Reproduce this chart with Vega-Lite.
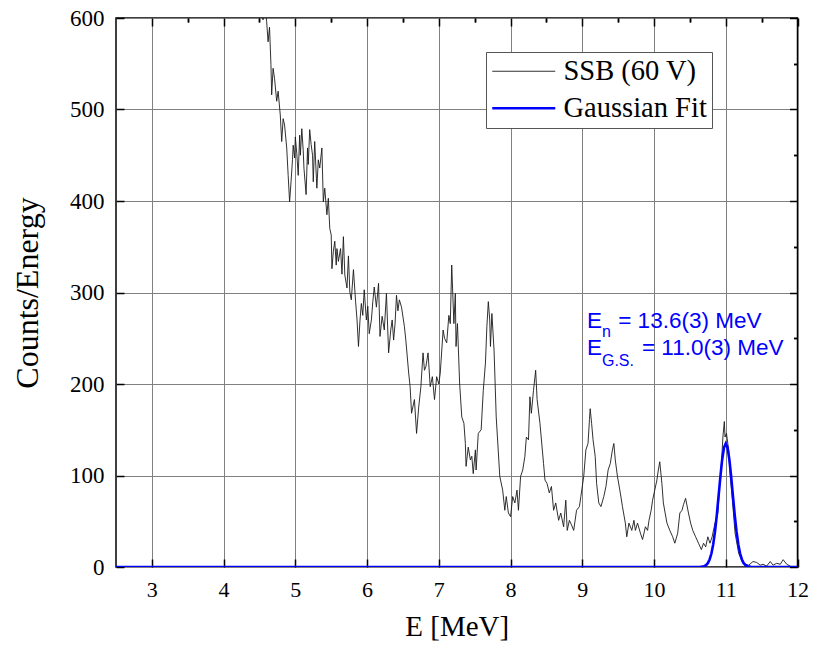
{
  "$schema": "https://vega.github.io/schema/vega-lite/v6.json",
  "width": 681.5,
  "height": 549,
  "autosize": "none",
  "padding": {"left": 116, "top": 18, "right": 18.5, "bottom": 82},
  "background": "white",
  "config": {
    "view": {"stroke": "black", "strokeWidth": 1.5},
    "axis": {
      "domain": false,
      "labelFont": "Liberation Serif",
      "titleFont": "Liberation Serif",
      "labelColor": "black",
      "titleColor": "black",
      "tickColor": "black",
      "tickWidth": 1.5,
      "gridColor": "#808080",
      "gridWidth": 1,
      "gridOpacity": 1,
      "titleFontWeight": "normal"
    }
  },
  "datasets": {
    "spec": [
      {"E": 4.40, "C": 700, "s": "SSB (60 V)"},
      {"E": 4.47, "C": 655, "s": "SSB (60 V)"},
      {"E": 4.52, "C": 612, "s": "SSB (60 V)"},
      {"E": 4.55, "C": 598, "s": "SSB (60 V)"},
      {"E": 4.57, "C": 618, "s": "SSB (60 V)"},
      {"E": 4.60, "C": 596, "s": "SSB (60 V)"},
      {"E": 4.62, "C": 574, "s": "SSB (60 V)"},
      {"E": 4.64, "C": 590, "s": "SSB (60 V)"},
      {"E": 4.66, "C": 549, "s": "SSB (60 V)"},
      {"E": 4.67, "C": 516, "s": "SSB (60 V)"},
      {"E": 4.69, "C": 545, "s": "SSB (60 V)"},
      {"E": 4.71, "C": 534, "s": "SSB (60 V)"},
      {"E": 4.74, "C": 509, "s": "SSB (60 V)"},
      {"E": 4.76, "C": 520, "s": "SSB (60 V)"},
      {"E": 4.79, "C": 494, "s": "SSB (60 V)"},
      {"E": 4.81, "C": 465, "s": "SSB (60 V)"},
      {"E": 4.83, "C": 490, "s": "SSB (60 V)"},
      {"E": 4.85, "C": 483, "s": "SSB (60 V)"},
      {"E": 4.88, "C": 458, "s": "SSB (60 V)"},
      {"E": 4.90, "C": 428, "s": "SSB (60 V)"},
      {"E": 4.92, "C": 399, "s": "SSB (60 V)"},
      {"E": 4.94, "C": 421, "s": "SSB (60 V)"},
      {"E": 4.96, "C": 445, "s": "SSB (60 V)"},
      {"E": 4.97, "C": 461, "s": "SSB (60 V)"},
      {"E": 4.99, "C": 447, "s": "SSB (60 V)"},
      {"E": 5.00, "C": 470, "s": "SSB (60 V)"},
      {"E": 5.02, "C": 452, "s": "SSB (60 V)"},
      {"E": 5.04, "C": 428, "s": "SSB (60 V)"},
      {"E": 5.06, "C": 472, "s": "SSB (60 V)"},
      {"E": 5.07, "C": 450, "s": "SSB (60 V)"},
      {"E": 5.09, "C": 479, "s": "SSB (60 V)"},
      {"E": 5.11, "C": 455, "s": "SSB (60 V)"},
      {"E": 5.12, "C": 436, "s": "SSB (60 V)"},
      {"E": 5.15, "C": 407, "s": "SSB (60 V)"},
      {"E": 5.17, "C": 458, "s": "SSB (60 V)"},
      {"E": 5.18, "C": 440, "s": "SSB (60 V)"},
      {"E": 5.20, "C": 478, "s": "SSB (60 V)"},
      {"E": 5.22, "C": 462, "s": "SSB (60 V)"},
      {"E": 5.24, "C": 450, "s": "SSB (60 V)"},
      {"E": 5.25, "C": 421, "s": "SSB (60 V)"},
      {"E": 5.27, "C": 465, "s": "SSB (60 V)"},
      {"E": 5.30, "C": 414, "s": "SSB (60 V)"},
      {"E": 5.32, "C": 445, "s": "SSB (60 V)"},
      {"E": 5.34, "C": 436, "s": "SSB (60 V)"},
      {"E": 5.37, "C": 458, "s": "SSB (60 V)"},
      {"E": 5.39, "C": 399, "s": "SSB (60 V)"},
      {"E": 5.41, "C": 414, "s": "SSB (60 V)"},
      {"E": 5.44, "C": 385, "s": "SSB (60 V)"},
      {"E": 5.46, "C": 403, "s": "SSB (60 V)"},
      {"E": 5.48, "C": 370, "s": "SSB (60 V)"},
      {"E": 5.50, "C": 363, "s": "SSB (60 V)"},
      {"E": 5.51, "C": 326, "s": "SSB (60 V)"},
      {"E": 5.53, "C": 345, "s": "SSB (60 V)"},
      {"E": 5.55, "C": 356, "s": "SSB (60 V)"},
      {"E": 5.57, "C": 330, "s": "SSB (60 V)"},
      {"E": 5.58, "C": 348, "s": "SSB (60 V)"},
      {"E": 5.60, "C": 334, "s": "SSB (60 V)"},
      {"E": 5.63, "C": 348, "s": "SSB (60 V)"},
      {"E": 5.65, "C": 320, "s": "SSB (60 V)"},
      {"E": 5.67, "C": 361, "s": "SSB (60 V)"},
      {"E": 5.69, "C": 319, "s": "SSB (60 V)"},
      {"E": 5.72, "C": 305, "s": "SSB (60 V)"},
      {"E": 5.74, "C": 340, "s": "SSB (60 V)"},
      {"E": 5.76, "C": 300, "s": "SSB (60 V)"},
      {"E": 5.78, "C": 292, "s": "SSB (60 V)"},
      {"E": 5.81, "C": 325, "s": "SSB (60 V)"},
      {"E": 5.84, "C": 290, "s": "SSB (60 V)"},
      {"E": 5.86, "C": 270, "s": "SSB (60 V)"},
      {"E": 5.88, "C": 241, "s": "SSB (60 V)"},
      {"E": 5.90, "C": 268, "s": "SSB (60 V)"},
      {"E": 5.92, "C": 288, "s": "SSB (60 V)"},
      {"E": 5.94, "C": 275, "s": "SSB (60 V)"},
      {"E": 5.96, "C": 303, "s": "SSB (60 V)"},
      {"E": 5.99, "C": 270, "s": "SSB (60 V)"},
      {"E": 6.01, "C": 285, "s": "SSB (60 V)"},
      {"E": 6.03, "C": 255, "s": "SSB (60 V)"},
      {"E": 6.06, "C": 270, "s": "SSB (60 V)"},
      {"E": 6.08, "C": 290, "s": "SSB (60 V)"},
      {"E": 6.10, "C": 306, "s": "SSB (60 V)"},
      {"E": 6.13, "C": 284, "s": "SSB (60 V)"},
      {"E": 6.16, "C": 310, "s": "SSB (60 V)"},
      {"E": 6.18, "C": 252, "s": "SSB (60 V)"},
      {"E": 6.21, "C": 274, "s": "SSB (60 V)"},
      {"E": 6.24, "C": 259, "s": "SSB (60 V)"},
      {"E": 6.27, "C": 299, "s": "SSB (60 V)"},
      {"E": 6.30, "C": 234, "s": "SSB (60 V)"},
      {"E": 6.33, "C": 259, "s": "SSB (60 V)"},
      {"E": 6.35, "C": 270, "s": "SSB (60 V)"},
      {"E": 6.37, "C": 248, "s": "SSB (60 V)"},
      {"E": 6.39, "C": 266, "s": "SSB (60 V)"},
      {"E": 6.41, "C": 297, "s": "SSB (60 V)"},
      {"E": 6.43, "C": 280, "s": "SSB (60 V)"},
      {"E": 6.45, "C": 292, "s": "SSB (60 V)"},
      {"E": 6.48, "C": 284, "s": "SSB (60 V)"},
      {"E": 6.52, "C": 263, "s": "SSB (60 V)"},
      {"E": 6.54, "C": 248, "s": "SSB (60 V)"},
      {"E": 6.58, "C": 212, "s": "SSB (60 V)"},
      {"E": 6.60, "C": 197, "s": "SSB (60 V)"},
      {"E": 6.62, "C": 168, "s": "SSB (60 V)"},
      {"E": 6.66, "C": 183, "s": "SSB (60 V)"},
      {"E": 6.69, "C": 146, "s": "SSB (60 V)"},
      {"E": 6.72, "C": 175, "s": "SSB (60 V)"},
      {"E": 6.75, "C": 197, "s": "SSB (60 V)"},
      {"E": 6.78, "C": 234, "s": "SSB (60 V)"},
      {"E": 6.80, "C": 215, "s": "SSB (60 V)"},
      {"E": 6.82, "C": 219, "s": "SSB (60 V)"},
      {"E": 6.85, "C": 234, "s": "SSB (60 V)"},
      {"E": 6.88, "C": 197, "s": "SSB (60 V)"},
      {"E": 6.91, "C": 208, "s": "SSB (60 V)"},
      {"E": 6.94, "C": 183, "s": "SSB (60 V)"},
      {"E": 6.97, "C": 208, "s": "SSB (60 V)"},
      {"E": 7.00, "C": 200, "s": "SSB (60 V)"},
      {"E": 7.02, "C": 212, "s": "SSB (60 V)"},
      {"E": 7.06, "C": 259, "s": "SSB (60 V)"},
      {"E": 7.08, "C": 250, "s": "SSB (60 V)"},
      {"E": 7.11, "C": 245, "s": "SSB (60 V)"},
      {"E": 7.14, "C": 275, "s": "SSB (60 V)"},
      {"E": 7.16, "C": 266, "s": "SSB (60 V)"},
      {"E": 7.18, "C": 330, "s": "SSB (60 V)"},
      {"E": 7.21, "C": 266, "s": "SSB (60 V)"},
      {"E": 7.23, "C": 299, "s": "SSB (60 V)"},
      {"E": 7.24, "C": 241, "s": "SSB (60 V)"},
      {"E": 7.26, "C": 266, "s": "SSB (60 V)"},
      {"E": 7.29, "C": 201, "s": "SSB (60 V)"},
      {"E": 7.32, "C": 164, "s": "SSB (60 V)"},
      {"E": 7.35, "C": 157, "s": "SSB (60 V)"},
      {"E": 7.37, "C": 135, "s": "SSB (60 V)"},
      {"E": 7.38, "C": 110, "s": "SSB (60 V)"},
      {"E": 7.41, "C": 131, "s": "SSB (60 V)"},
      {"E": 7.44, "C": 117, "s": "SSB (60 V)"},
      {"E": 7.46, "C": 121, "s": "SSB (60 V)"},
      {"E": 7.48, "C": 102, "s": "SSB (60 V)"},
      {"E": 7.51, "C": 128, "s": "SSB (60 V)"},
      {"E": 7.52, "C": 106, "s": "SSB (60 V)"},
      {"E": 7.55, "C": 146, "s": "SSB (60 V)"},
      {"E": 7.59, "C": 150, "s": "SSB (60 V)"},
      {"E": 7.62, "C": 193, "s": "SSB (60 V)"},
      {"E": 7.65, "C": 223, "s": "SSB (60 V)"},
      {"E": 7.67, "C": 263, "s": "SSB (60 V)"},
      {"E": 7.69, "C": 290, "s": "SSB (60 V)"},
      {"E": 7.71, "C": 270, "s": "SSB (60 V)"},
      {"E": 7.72, "C": 241, "s": "SSB (60 V)"},
      {"E": 7.74, "C": 277, "s": "SSB (60 V)"},
      {"E": 7.77, "C": 237, "s": "SSB (60 V)"},
      {"E": 7.80, "C": 164, "s": "SSB (60 V)"},
      {"E": 7.85, "C": 99, "s": "SSB (60 V)"},
      {"E": 7.89, "C": 84, "s": "SSB (60 V)"},
      {"E": 7.92, "C": 62, "s": "SSB (60 V)"},
      {"E": 7.94, "C": 77, "s": "SSB (60 V)"},
      {"E": 7.97, "C": 59, "s": "SSB (60 V)"},
      {"E": 8.00, "C": 55, "s": "SSB (60 V)"},
      {"E": 8.03, "C": 77, "s": "SSB (60 V)"},
      {"E": 8.06, "C": 70, "s": "SSB (60 V)"},
      {"E": 8.09, "C": 84, "s": "SSB (60 V)"},
      {"E": 8.11, "C": 62, "s": "SSB (60 V)"},
      {"E": 8.14, "C": 99, "s": "SSB (60 V)"},
      {"E": 8.17, "C": 106, "s": "SSB (60 V)"},
      {"E": 8.20, "C": 121, "s": "SSB (60 V)"},
      {"E": 8.22, "C": 142, "s": "SSB (60 V)"},
      {"E": 8.25, "C": 139, "s": "SSB (60 V)"},
      {"E": 8.27, "C": 186, "s": "SSB (60 V)"},
      {"E": 8.29, "C": 168, "s": "SSB (60 V)"},
      {"E": 8.32, "C": 193, "s": "SSB (60 V)"},
      {"E": 8.35, "C": 215, "s": "SSB (60 V)"},
      {"E": 8.37, "C": 183, "s": "SSB (60 V)"},
      {"E": 8.41, "C": 157, "s": "SSB (60 V)"},
      {"E": 8.46, "C": 113, "s": "SSB (60 V)"},
      {"E": 8.48, "C": 95, "s": "SSB (60 V)"},
      {"E": 8.51, "C": 91, "s": "SSB (60 V)"},
      {"E": 8.54, "C": 81, "s": "SSB (60 V)"},
      {"E": 8.57, "C": 88, "s": "SSB (60 V)"},
      {"E": 8.60, "C": 62, "s": "SSB (60 V)"},
      {"E": 8.63, "C": 70, "s": "SSB (60 V)"},
      {"E": 8.67, "C": 51, "s": "SSB (60 V)"},
      {"E": 8.70, "C": 59, "s": "SSB (60 V)"},
      {"E": 8.74, "C": 44, "s": "SSB (60 V)"},
      {"E": 8.77, "C": 73, "s": "SSB (60 V)"},
      {"E": 8.79, "C": 40, "s": "SSB (60 V)"},
      {"E": 8.82, "C": 51, "s": "SSB (60 V)"},
      {"E": 8.85, "C": 46, "s": "SSB (60 V)"},
      {"E": 8.88, "C": 40, "s": "SSB (60 V)"},
      {"E": 8.92, "C": 62, "s": "SSB (60 V)"},
      {"E": 8.96, "C": 66, "s": "SSB (60 V)"},
      {"E": 8.98, "C": 77, "s": "SSB (60 V)"},
      {"E": 9.02, "C": 99, "s": "SSB (60 V)"},
      {"E": 9.05, "C": 128, "s": "SSB (60 V)"},
      {"E": 9.08, "C": 135, "s": "SSB (60 V)"},
      {"E": 9.10, "C": 161, "s": "SSB (60 V)"},
      {"E": 9.11, "C": 173, "s": "SSB (60 V)"},
      {"E": 9.13, "C": 157, "s": "SSB (60 V)"},
      {"E": 9.15, "C": 139, "s": "SSB (60 V)"},
      {"E": 9.18, "C": 121, "s": "SSB (60 V)"},
      {"E": 9.20, "C": 91, "s": "SSB (60 V)"},
      {"E": 9.23, "C": 70, "s": "SSB (60 V)"},
      {"E": 9.26, "C": 66, "s": "SSB (60 V)"},
      {"E": 9.30, "C": 77, "s": "SSB (60 V)"},
      {"E": 9.33, "C": 88, "s": "SSB (60 V)"},
      {"E": 9.36, "C": 106, "s": "SSB (60 V)"},
      {"E": 9.39, "C": 113, "s": "SSB (60 V)"},
      {"E": 9.42, "C": 128, "s": "SSB (60 V)"},
      {"E": 9.44, "C": 135, "s": "SSB (60 V)"},
      {"E": 9.46, "C": 117, "s": "SSB (60 V)"},
      {"E": 9.49, "C": 99, "s": "SSB (60 V)"},
      {"E": 9.53, "C": 81, "s": "SSB (60 V)"},
      {"E": 9.56, "C": 66, "s": "SSB (60 V)"},
      {"E": 9.60, "C": 48, "s": "SSB (60 V)"},
      {"E": 9.62, "C": 33, "s": "SSB (60 V)"},
      {"E": 9.65, "C": 48, "s": "SSB (60 V)"},
      {"E": 9.69, "C": 40, "s": "SSB (60 V)"},
      {"E": 9.72, "C": 51, "s": "SSB (60 V)"},
      {"E": 9.74, "C": 40, "s": "SSB (60 V)"},
      {"E": 9.77, "C": 48, "s": "SSB (60 V)"},
      {"E": 9.81, "C": 37, "s": "SSB (60 V)"},
      {"E": 9.84, "C": 30, "s": "SSB (60 V)"},
      {"E": 9.88, "C": 44, "s": "SSB (60 V)"},
      {"E": 9.91, "C": 40, "s": "SSB (60 V)"},
      {"E": 9.93, "C": 51, "s": "SSB (60 V)"},
      {"E": 9.96, "C": 62, "s": "SSB (60 V)"},
      {"E": 9.98, "C": 73, "s": "SSB (60 V)"},
      {"E": 10.01, "C": 84, "s": "SSB (60 V)"},
      {"E": 10.04, "C": 95, "s": "SSB (60 V)"},
      {"E": 10.06, "C": 106, "s": "SSB (60 V)"},
      {"E": 10.08, "C": 115, "s": "SSB (60 V)"},
      {"E": 10.11, "C": 91, "s": "SSB (60 V)"},
      {"E": 10.13, "C": 70, "s": "SSB (60 V)"},
      {"E": 10.18, "C": 48, "s": "SSB (60 V)"},
      {"E": 10.22, "C": 40, "s": "SSB (60 V)"},
      {"E": 10.26, "C": 33, "s": "SSB (60 V)"},
      {"E": 10.29, "C": 26, "s": "SSB (60 V)"},
      {"E": 10.33, "C": 37, "s": "SSB (60 V)"},
      {"E": 10.36, "C": 59, "s": "SSB (60 V)"},
      {"E": 10.39, "C": 62, "s": "SSB (60 V)"},
      {"E": 10.41, "C": 68, "s": "SSB (60 V)"},
      {"E": 10.44, "C": 75, "s": "SSB (60 V)"},
      {"E": 10.48, "C": 59, "s": "SSB (60 V)"},
      {"E": 10.51, "C": 48, "s": "SSB (60 V)"},
      {"E": 10.54, "C": 40, "s": "SSB (60 V)"},
      {"E": 10.58, "C": 33, "s": "SSB (60 V)"},
      {"E": 10.62, "C": 26, "s": "SSB (60 V)"},
      {"E": 10.66, "C": 19, "s": "SSB (60 V)"},
      {"E": 10.69, "C": 26, "s": "SSB (60 V)"},
      {"E": 10.72, "C": 22, "s": "SSB (60 V)"},
      {"E": 10.75, "C": 33, "s": "SSB (60 V)"},
      {"E": 10.78, "C": 26, "s": "SSB (60 V)"},
      {"E": 10.81, "C": 33, "s": "SSB (60 V)"},
      {"E": 10.85, "C": 48, "s": "SSB (60 V)"},
      {"E": 10.89, "C": 59, "s": "SSB (60 V)"},
      {"E": 10.91, "C": 84, "s": "SSB (60 V)"},
      {"E": 10.94, "C": 113, "s": "SSB (60 V)"},
      {"E": 10.96, "C": 142, "s": "SSB (60 V)"},
      {"E": 10.98, "C": 159, "s": "SSB (60 V)"},
      {"E": 10.99, "C": 142, "s": "SSB (60 V)"},
      {"E": 11.01, "C": 146, "s": "SSB (60 V)"},
      {"E": 11.04, "C": 128, "s": "SSB (60 V)"},
      {"E": 11.06, "C": 102, "s": "SSB (60 V)"},
      {"E": 11.10, "C": 66, "s": "SSB (60 V)"},
      {"E": 11.13, "C": 37, "s": "SSB (60 V)"},
      {"E": 11.18, "C": 15, "s": "SSB (60 V)"},
      {"E": 11.24, "C": 4, "s": "SSB (60 V)"},
      {"E": 11.32, "C": 2, "s": "SSB (60 V)"},
      {"E": 11.38, "C": 6, "s": "SSB (60 V)"},
      {"E": 11.43, "C": 5, "s": "SSB (60 V)"},
      {"E": 11.48, "C": 2, "s": "SSB (60 V)"},
      {"E": 11.52, "C": 3, "s": "SSB (60 V)"},
      {"E": 11.57, "C": 1, "s": "SSB (60 V)"},
      {"E": 11.62, "C": 6, "s": "SSB (60 V)"},
      {"E": 11.66, "C": 2, "s": "SSB (60 V)"},
      {"E": 11.71, "C": 4, "s": "SSB (60 V)"},
      {"E": 11.76, "C": 3, "s": "SSB (60 V)"},
      {"E": 11.80, "C": 8, "s": "SSB (60 V)"},
      {"E": 11.85, "C": 3, "s": "SSB (60 V)"},
      {"E": 11.90, "C": 1, "s": "SSB (60 V)"},
      {"E": 2.5, "C": 0, "s": "Gaussian Fit"},
      {"E": 10.6, "C": 0, "s": "Gaussian Fit"},
      {"E": 10.65, "C": 0.15, "s": "Gaussian Fit"},
      {"E": 10.7, "C": 0.92, "s": "Gaussian Fit"},
      {"E": 10.725, "C": 2.0, "s": "Gaussian Fit"},
      {"E": 10.75, "C": 4.2, "s": "Gaussian Fit"},
      {"E": 10.775, "C": 8.2, "s": "Gaussian Fit"},
      {"E": 10.8, "C": 14.7, "s": "Gaussian Fit"},
      {"E": 10.825, "C": 24.7, "s": "Gaussian Fit"},
      {"E": 10.85, "C": 38.8, "s": "Gaussian Fit"},
      {"E": 10.875, "C": 56.8, "s": "Gaussian Fit"},
      {"E": 10.9, "C": 77.6, "s": "Gaussian Fit"},
      {"E": 10.925, "C": 98.9, "s": "Gaussian Fit"},
      {"E": 10.95, "C": 117.5, "s": "Gaussian Fit"},
      {"E": 10.975, "C": 130.4, "s": "Gaussian Fit"},
      {"E": 11.0, "C": 135, "s": "Gaussian Fit"},
      {"E": 11.025, "C": 130.4, "s": "Gaussian Fit"},
      {"E": 11.05, "C": 117.5, "s": "Gaussian Fit"},
      {"E": 11.075, "C": 98.9, "s": "Gaussian Fit"},
      {"E": 11.1, "C": 77.6, "s": "Gaussian Fit"},
      {"E": 11.125, "C": 56.8, "s": "Gaussian Fit"},
      {"E": 11.15, "C": 38.8, "s": "Gaussian Fit"},
      {"E": 11.175, "C": 24.7, "s": "Gaussian Fit"},
      {"E": 11.2, "C": 14.7, "s": "Gaussian Fit"},
      {"E": 11.225, "C": 8.2, "s": "Gaussian Fit"},
      {"E": 11.25, "C": 4.2, "s": "Gaussian Fit"},
      {"E": 11.275, "C": 2.0, "s": "Gaussian Fit"},
      {"E": 11.3, "C": 0.92, "s": "Gaussian Fit"},
      {"E": 11.35, "C": 0.15, "s": "Gaussian Fit"},
      {"E": 11.4, "C": 0, "s": "Gaussian Fit"},
      {"E": 12.0, "C": 0, "s": "Gaussian Fit"}
    ],
    "ann": [
      {"E": 9.065, "C": 261.2, "t": "E"},
      {"E": 9.501, "C": 261.2, "t": "= 13.6(3) MeV"},
      {"E": 9.065, "C": 231.7, "t": "E"},
      {"E": 9.832, "C": 231.7, "t": "= 11.0(3) MeV"}
    ],
    "sub": [
      {"E": 9.274, "C": 251.7, "t": "n"},
      {"E": 9.274, "C": 219.7, "t": "G.S."}
    ]
  },
  "layer": [
    {
      "data": {"name": "spec"},
      "mark": {"type": "line", "clip": true},
      "encoding": {
        "x": {
          "field": "E", "type": "quantitative",
          "scale": {"domain": [2.5, 12], "nice": false, "zero": false},
          "axis": {
            "values": [3, 4, 5, 6, 7, 8, 9, 10, 11, 12],
            "tickSize": -8, "labelPadding": 20, "labelFontSize": 22, "labelFlush": false,
            "title": "E [MeV]", "titleFontSize": 29, "titlePadding": 12, "grid": true
          }
        },
        "y": {
          "field": "C", "type": "quantitative",
          "scale": {"domain": [0, 600], "nice": false},
          "axis": {
            "values": [0, 100, 200, 300, 400, 500, 600],
            "tickSize": -8, "labelPadding": 20, "labelFontSize": 23, "labelFlush": false,
            "title": "Counts/Energy", "titleFontSize": 32, "titlePadding": 25, "grid": true
          }
        },
        "color": {
          "field": "s", "type": "nominal",
          "scale": {"domain": ["SSB (60 V)", "Gaussian Fit"], "range": ["#1a1a1a", "#0000ff"]},
          "legend": {
            "title": null, "orient": "none", "legendX": 370, "legendY": 34,
            "padding": 5, "fillColor": "white", "strokeColor": "#555555",
            "labelFont": "Liberation Serif", "labelFontSize": 28.5, "labelColor": "black",
            "symbolType": "M-6.5,0H25", "symbolSize": 16, "labelOffset": 44,
            "rowPadding": 8, "labelLimit": 400
          }
        },
        "strokeWidth": {
          "field": "s", "type": "nominal",
          "scale": {"domain": ["SSB (60 V)", "Gaussian Fit"], "range": [0.9, 2.6]},
          "legend": {
            "title": null, "orient": "none", "legendX": 370, "legendY": 34,
            "padding": 5, "fillColor": "white", "strokeColor": "#555555",
            "labelFont": "Liberation Serif", "labelFontSize": 28.5, "labelColor": "black",
            "symbolType": "M-6.5,0H25", "symbolSize": 16, "labelOffset": 44,
            "rowPadding": 8, "labelLimit": 400
          }
        }
      }
    },
    {
      "data": {"name": "ann"},
      "mark": {"type": "text", "font": "Liberation Sans", "fontSize": 22.5, "fill": "#0000ff", "align": "left", "baseline": "alphabetic"},
      "encoding": {
        "x": {"field": "E", "type": "quantitative",
          "axis": {"values": [3.5, 4.5, 5.5, 6.5, 7.5, 8.5, 9.5, 10.5, 11.5], "tickSize": -4, "labels": false, "title": null, "grid": false}},
        "y": {"field": "C", "type": "quantitative",
          "axis": {"values": [50, 150, 250, 350, 450, 550], "tickSize": -4, "labels": false, "title": null, "grid": false}},
        "text": {"field": "t"}
      }
    },
    {
      "data": {"name": "sub"},
      "mark": {"type": "text", "font": "Liberation Sans", "fontSize": 16, "fill": "#0000ff", "align": "left", "baseline": "alphabetic"},
      "encoding": {
        "x": {"field": "E", "type": "quantitative",
          "axis": {"orient": "top", "values": [3, 4, 5, 6, 7, 8, 9, 10, 11, 12], "tickSize": -8, "labels": false, "title": null, "grid": false}},
        "y": {"field": "C", "type": "quantitative",
          "axis": {"orient": "right", "values": [0, 100, 200, 300, 400, 500, 600], "tickSize": -8, "labels": false, "title": null, "grid": false}},
        "text": {"field": "t"}
      }
    },
    {
      "data": {"name": "sub"},
      "mark": {"type": "text", "opacity": 0},
      "encoding": {
        "x": {"field": "E", "type": "quantitative",
          "axis": {"orient": "top", "values": [3.5, 4.5, 5.5, 6.5, 7.5, 8.5, 9.5, 10.5, 11.5], "tickSize": -4, "labels": false, "title": null, "grid": false}},
        "y": {"field": "C", "type": "quantitative",
          "axis": {"orient": "right", "values": [50, 150, 250, 350, 450, 550], "tickSize": -4, "labels": false, "title": null, "grid": false}},
        "text": {"field": "t"}
      }
    }
  ],
  "resolve": {"axis": {"x": "independent", "y": "independent"}}
}
